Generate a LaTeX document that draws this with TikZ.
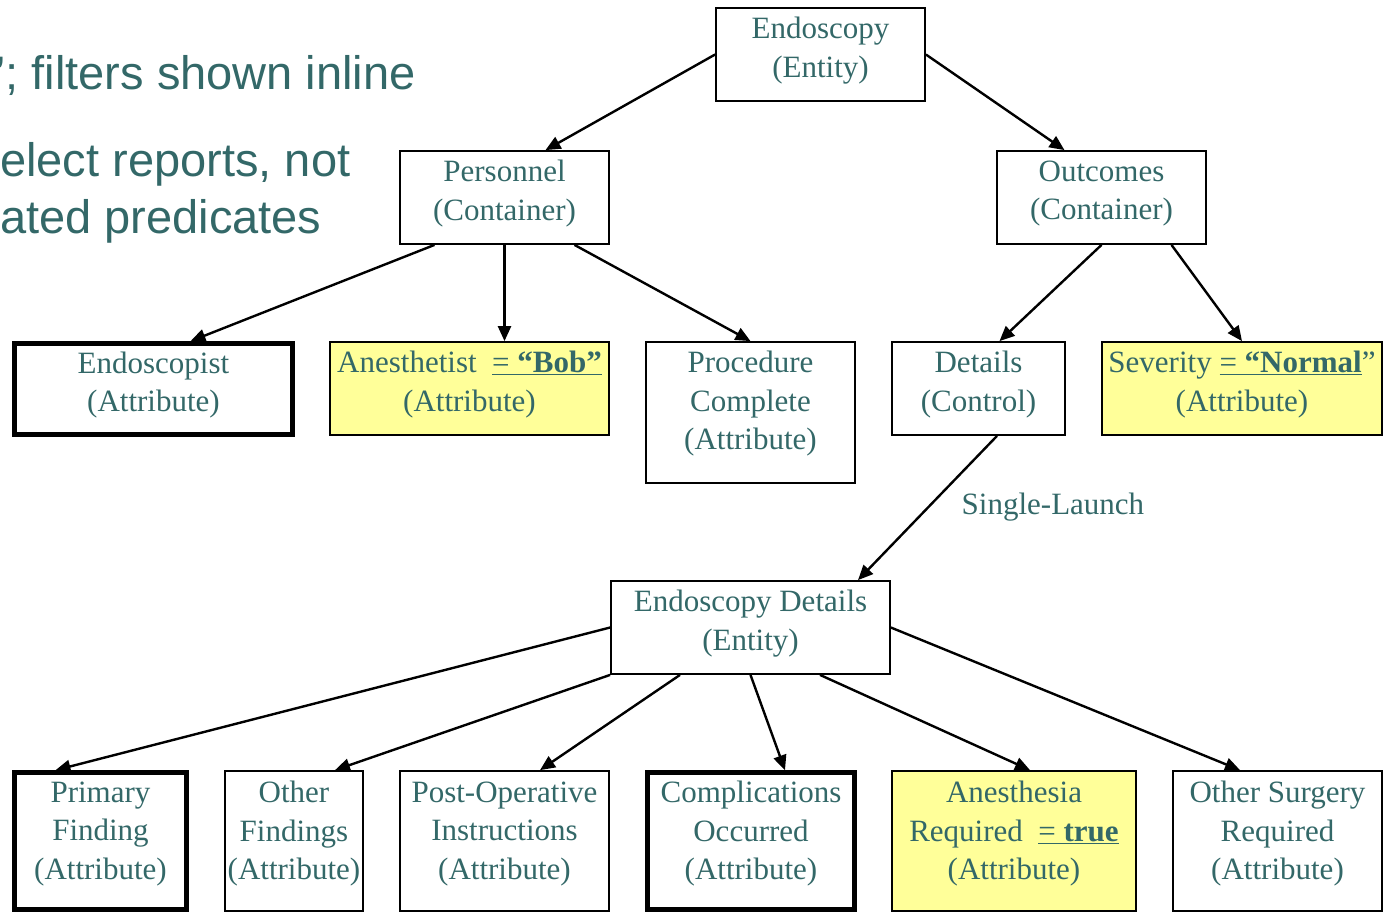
\documentclass[tikz,border=0pt]{standalone}
\usepackage{fontspec}
\setmainfont{Liberation Serif}
\newfontfamily\slidesans{Liberation Sans}
\usetikzlibrary{arrows.meta,positioning,calc}
\definecolor{slideteal}{RGB}{51,104,104}
\definecolor{filtyellow}{RGB}{255,255,153}

\begin{document}
\begin{tikzpicture}[x=1pt,y=-1pt,
    box/.style={draw,line width=1.8pt,fill=white,align=center,inner sep=0pt,
        text=slideteal,font=\fontsize{31}{38.5}\selectfont,text depth=15pt},
    keybox/.style={box,line width=4.6pt},
    filtbox/.style={box,fill=filtyellow},
    lowbox/.style={text depth=21pt},
    arr/.style={-{Triangle[length=15pt,width=13pt]},line width=2.4pt}]
     \useasboundingbox (0,0) rectangle (1388,914);

     % slide text behind the diagram
     \node[anchor=base west,inner sep=0pt,text=slideteal,font=\slidesans\fontsize{47}{57}\selectfont] (bul1) at (-5,89) {’; filters shown inline};
     \node[anchor=base west,inner sep=0pt,text=slideteal,font=\slidesans\fontsize{47}{57}\selectfont,align=left] (bul2) at (0,233) {elect reports, not\\ated predicates};

     % top of the tree
     \node[box,minimum width=209pt,minimum height=93pt] (endo) at (820.5,54.5) {Endoscopy\\(Entity)};
     \node[box,minimum width=209pt,minimum height=93pt] (pers) at (504.5,197.5) {Personnel\\(Container)};
     \node[box,minimum width=209pt,minimum height=93pt] (outc) at (1101.5,197.5) {Outcomes\\(Container)};

     \node[keybox,minimum width=278pt,minimum height=91pt] (scopist) at (153.5,389) {Endoscopist\\(Attribute)};
     \node[filtbox,minimum width=279pt,minimum height=93pt] (anest) at (469.5,388.5) {Anesthetist\ \ \underline{= \textbf{“Bob”}}\\(Attribute)};
     \node[box,minimum width=209pt,minimum height=141pt,text depth=24pt] (proc) at (750.5,412.5) {Procedure\\Complete\\(Attribute)};
     \node[box,minimum width=173pt,minimum height=93pt] (det) at (978.5,388.5) {Details\\(Control)};
     \node[filtbox,minimum width=280pt,minimum height=93pt] (sev) at (1242,388.5) {Severity \underline{= \textbf{“Normal}}”\\(Attribute)};

     % launched entity
     \node[box,minimum width=279pt,minimum height=93pt] (edet) at (750.5,627.5) {Endoscopy Details\\(Entity)};

     \node[keybox,lowbox,minimum width=172pt,minimum height=137pt] (prim) at (100.5,841) {Primary\\Finding\\(Attribute)};
     \node[box,lowbox,minimum width=138pt,minimum height=140pt] (othf) at (294,841) {Other\\Findings\\(Attribute)};
     \node[box,lowbox,minimum width=209pt,minimum height=140pt] (postop) at (504.5,841) {Post-Operative\\Instructions\\(Attribute)};
     \node[keybox,lowbox,minimum width=207pt,minimum height=137pt] (compl) at (751,841) {Complications\\Occurred\\(Attribute)};
     \node[filtbox,lowbox,minimum width=244pt,minimum height=140pt] (anreq) at (1014,841) {Anesthesia\\Required\ \ \underline{= \textbf{true}}\\(Attribute)};
     \node[box,lowbox,minimum width=209pt,minimum height=140pt] (surg) at (1277.5,841) {Other Surgery\\Required\\(Attribute)};

     \draw[arr] (endo.west) -- ([xshift=41pt]pers.north);
     \draw[arr] (endo.east) -- ([xshift=-37pt]outc.north);

     \draw[arr] ([xshift=-70pt]pers.south) -- ([xshift=37pt]scopist.north);
     \draw[arr] (pers.south) -- (pers.south |- anest.north);
     \draw[arr] ([xshift=70pt]pers.south) -- (proc.north);
     \draw[arr] (outc.south) -- ([xshift=21pt]det.north);
     \draw[arr] ([xshift=70pt]outc.south) -- (sev.north);

     \draw[arr] ([xshift=18.5pt]det.south) -- ([xshift=107.5pt]edet.north)
         node[pos=0.5,anchor=west,xshift=33pt,yshift=1pt,inner sep=0pt,text=slideteal,font=\fontsize{31}{38.5}\selectfont] (launch) {Single-Launch};

     \draw[arr] (edet.west) -- ([xshift=-45pt]prim.north);
     \draw[arr] (edet.south west) -- ([xshift=41pt]othf.north);
     \draw[arr] ([xshift=-70.5pt]edet.south) -- ([xshift=35.5pt]postop.north);
     \draw[arr] (edet.south) -- ([xshift=34pt]compl.north);
     \draw[arr] ([xshift=69.5pt]edet.south) -- ([xshift=16pt]anreq.north);
     \draw[arr] (edet.east) -- ([xshift=-37.5pt]surg.north);

\end{tikzpicture}
\end{document}
